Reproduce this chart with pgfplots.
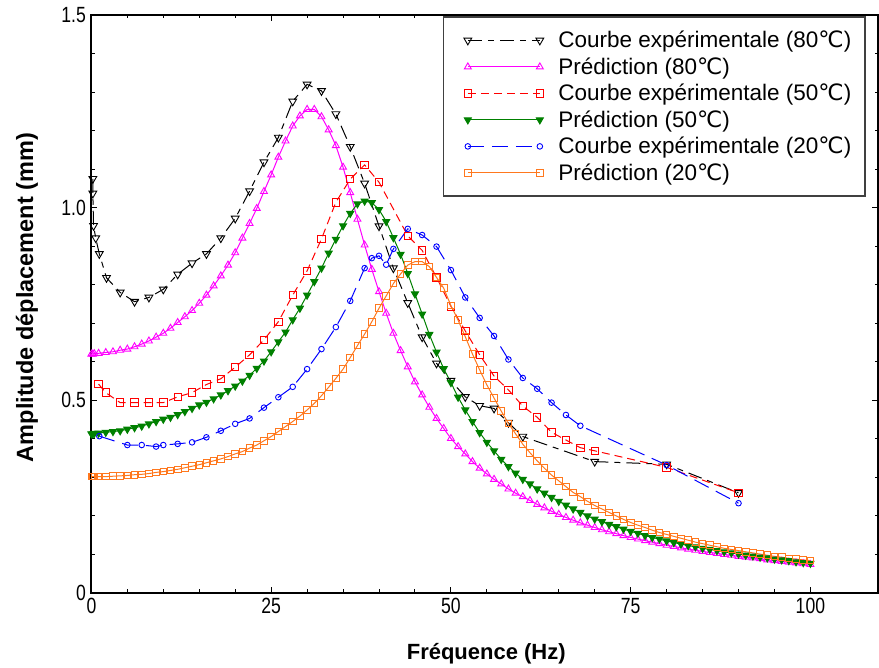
\documentclass[border=0pt]{standalone}
\usepackage{fontspec}
\setmainfont{Liberation Sans}
\newfontfamily\dv{DejaVu Sans}
\newfontfamily\tickfont[FakeStretch=0.8]{Liberation Sans}
\usepackage{pgfplots}
\pgfplotsset{compat=1.18}
\usepackage{pgfplotstable}

\definecolor{cmag}{RGB}{255,0,255}
\definecolor{cred}{RGB}{255,0,0}
\definecolor{cgreen}{RGB}{0,128,0}
\definecolor{cblue}{RGB}{0,0,255}
\definecolor{corange}{RGB}{255,120,30}
\definecolor{legframe}{RGB}{64,64,64}

\pgfplotstableread{
x y
0.2 1.075
0.2 1.037
0.3 0.953
0.6 0.921
1.1 0.880
2.1 0.818
4.0 0.780
6.0 0.756
8.0 0.767
10.0 0.788
12.0 0.827
14.0 0.856
16.0 0.880
18.0 0.921
20.0 0.972
22.0 1.043
24.0 1.118
26.0 1.182
28.0 1.276
30.0 1.320
32.0 1.303
34.0 1.243
36.0 1.158
38.0 1.063
40.0 0.952
42.0 0.843
44.0 0.753
46.0 0.664
48.0 0.596
50.0 0.551
52.0 0.509
54.0 0.486
56.0 0.479
58.0 0.442
60.0 0.406
70.0 0.341
80.0 0.334
90.0 0.260
}\blackexp

\pgfplotstableread{
x y
0 0.620
0.2 0.620
0.4 0.621
1 0.622
2 0.624
3 0.626
4 0.630
5 0.633
6 0.639
7 0.646
8 0.654
9 0.664
10 0.674
11 0.687
12 0.702
13 0.717
14 0.733
15 0.752
16 0.773
17 0.797
18 0.823
19 0.851
20 0.883
21 0.921
22 0.959
23 0.998
24 1.042
25 1.085
26 1.131
27 1.173
28 1.212
29 1.238
30 1.255
31 1.255
32 1.236
33 1.202
34 1.161
35 1.105
36 1.039
37 0.970
38 0.903
39 0.840
40 0.782
41 0.726
42 0.674
43 0.629
44 0.587
45 0.548
46 0.514
47 0.482
48 0.453
49 0.427
50 0.401
51 0.380
52 0.361
53 0.341
54 0.324
55 0.309
56 0.295
57 0.283
58 0.270
59 0.259
60 0.250
61 0.240
62 0.230
63 0.221
64 0.212
65 0.204
66 0.196
67 0.189
68 0.182
69 0.176
70 0.170
71 0.164
72 0.159
73 0.154
74 0.149
75 0.144
76 0.140
77 0.136
78 0.132
79 0.128
80 0.124
81 0.121
82 0.117
83 0.114
84 0.111
85 0.108
86 0.105
87 0.103
88 0.100
89 0.098
90 0.095
91 0.093
92 0.091
93 0.089
94 0.086
95 0.084
96 0.082
97 0.080
98 0.078
99 0.076
100 0.074
}\magpred

\pgfplotstableread{
x y
1.0 0.542
2.0 0.520
4.0 0.494
6.0 0.494
8.0 0.494
10.0 0.494
12.0 0.509
14.0 0.520
16.0 0.541
18.0 0.556
20.0 0.586
22.0 0.618
24.0 0.657
26.0 0.704
28.0 0.773
30.0 0.836
32.0 0.919
34.0 1.014
36.0 1.074
38.0 1.111
40.0 1.066
44.0 0.927
46.0 0.889
48.0 0.819
50.0 0.744
52.0 0.680
54.0 0.618
56.0 0.563
58.0 0.527
60.0 0.485
62.0 0.456
64.0 0.417
66.0 0.397
68.0 0.377
70.0 0.369
80.0 0.326
90.0 0.260
}\redexp

\pgfplotstableread{
x y
0 0.413
0.2 0.413
0.4 0.414
1 0.415
2 0.417
3 0.419
4 0.421
5 0.425
6 0.429
7 0.433
8 0.439
9 0.445
10 0.451
11 0.456
12 0.463
13 0.471
14 0.479
15 0.488
16 0.495
17 0.504
18 0.514
19 0.525
20 0.537
21 0.550
22 0.565
23 0.583
24 0.602
25 0.626
26 0.652
27 0.677
28 0.709
29 0.739
30 0.773
31 0.808
32 0.843
33 0.882
34 0.918
35 0.953
36 0.985
37 1.010
38 1.017
39 1.013
40 0.995
41 0.964
42 0.922
43 0.879
44 0.829
45 0.776
46 0.724
47 0.671
48 0.625
49 0.582
50 0.546
51 0.508
52 0.475
53 0.445
54 0.416
55 0.391
56 0.369
57 0.347
58 0.328
59 0.311
60 0.295
61 0.283
62 0.270
63 0.259
64 0.248
65 0.238
66 0.228
67 0.218
68 0.209
69 0.200
70 0.192
71 0.185
72 0.178
73 0.172
74 0.166
75 0.160
76 0.155
77 0.149
78 0.144
79 0.140
80 0.135
81 0.131
82 0.127
83 0.123
84 0.120
85 0.116
86 0.113
87 0.110
88 0.107
89 0.104
90 0.101
91 0.098
92 0.096
93 0.093
94 0.091
95 0.088
96 0.086
97 0.084
98 0.081
99 0.079
100 0.077
}\greenpred

\pgfplotstableread{
x y
1.1 0.407
5.0 0.384
7.0 0.384
9.0 0.380
10.0 0.384
12.0 0.387
14.0 0.391
16.0 0.404
18.0 0.421
20.0 0.439
22.0 0.453
24.0 0.481
26.0 0.508
28.0 0.535
30.0 0.581
32.0 0.633
34.0 0.690
36.0 0.758
38.0 0.843
39.0 0.869
40.0 0.875
41.0 0.852
42.0 0.893
44.0 0.945
46.0 0.929
48.0 0.899
50.0 0.838
52.0 0.767
54.0 0.714
56.0 0.667
58.0 0.606
60.0 0.558
62.0 0.530
64.0 0.494
66.0 0.462
68.0 0.434
80.0 0.332
90.0 0.233
}\blueexp

\pgfplotstableread{
x y
0 0.302
0.2 0.302
0.4 0.302
1 0.302
2 0.302
3 0.303
4 0.304
5 0.305
6 0.307
7 0.308
8 0.310
9 0.313
10 0.315
11 0.318
12 0.321
13 0.325
14 0.329
15 0.333
16 0.338
17 0.343
18 0.348
19 0.354
20 0.361
21 0.367
22 0.376
23 0.384
24 0.395
25 0.406
26 0.419
27 0.432
28 0.445
29 0.459
30 0.475
31 0.492
32 0.512
33 0.534
34 0.557
35 0.581
36 0.611
37 0.642
38 0.672
39 0.704
40 0.739
41 0.771
42 0.803
43 0.828
44 0.851
45 0.860
46 0.860
47 0.847
48 0.819
49 0.791
50 0.746
51 0.708
52 0.665
53 0.620
54 0.579
55 0.540
56 0.506
57 0.472
58 0.440
59 0.413
60 0.386
61 0.364
62 0.343
63 0.324
64 0.306
65 0.291
66 0.276
67 0.261
68 0.250
69 0.238
70 0.227
71 0.218
72 0.209
73 0.200
74 0.191
75 0.183
76 0.176
77 0.170
78 0.163
79 0.157
80 0.152
81 0.147
82 0.142
83 0.137
84 0.132
85 0.128
86 0.124
87 0.120
88 0.116
89 0.113
90 0.110
91 0.107
92 0.104
93 0.101
94 0.098
95 0.095
96 0.093
97 0.090
98 0.088
99 0.086
100 0.084
}\orangepred

\begin{document}
\begin{tikzpicture}
\begin{axis}[
  at={(91.4pt,75pt)}, anchor=south west,
  scale only axis, width=786.6pt, height=578pt,
  xmin=0, xmax=109.4, ymin=0, ymax=1.5,
  xtick={0,25,50,75,100}, xticklabels={0,25,50,75,100},
  minor x tick num=4,
  ytick={0,0.5,1,1.5}, yticklabels={0,0.5,1.0,1.5},
  minor y tick num=4,
  tick align=inside,
  major tick length=6pt, minor tick length=3.5pt,
  every tick/.style={black, line width=1pt},
  axis line style={line width=2pt},
  ticklabel style={font=\tickfont\fontsize{22}{22}\selectfont},
  xticklabel style={yshift=-2pt},
  yticklabel style={xshift=-2pt},
  every axis x label/.style={at={(axis description cs:0.502,0)}, anchor=base, yshift=-67pt, font=\bfseries\fontsize{22}{22}\selectfont},
  every axis y label/.style={at={(axis description cs:-0.0742,0.511)}, rotate=90, anchor=base, font=\bfseries\fontsize{23.5}{23.5}\selectfont},
  xlabel={Fréquence (Hz)},
  ylabel={Amplitude déplacement (mm)},
  legend cell align=left,
  legend style={at={(rel axis cs:0.9848,0.9974)}, anchor=north east,
    draw=legframe, line width=1.6pt, fill=white,
    font=\fontsize{22.5}{22.5}\selectfont,
    inner xsep=12pt, inner ysep=12pt, row sep=4.3pt,
    nodes={inner sep=2pt}},
  legend image code/.code={%
    \draw[mark repeat=2, mark phase=1, #1] plot coordinates {(0pt,0pt) (36pt,0pt) (72pt,0pt)};
    \path (-12pt,0pt) (88pt,0pt);},
]
\addplot[black, line width=1pt, dash pattern=on 14pt off 6pt on 6pt off 6pt,
  mark=triangle, mark size=4.5pt, mark options={solid, rotate=180, line width=0.9pt}] table {\blackexp};
\addlegendentry{Courbe expérimentale (80{\dv ℃})}
\addplot[cmag, line width=1pt, mark=triangle, mark size=4pt,
  mark options={solid, line width=0.9pt}] table {\magpred};
\addlegendentry{Prédiction (80{\dv ℃})}
\addplot[cred, line width=1pt, dash pattern=on 8pt off 5pt,
  mark=square, mark size=3.7pt, mark options={solid, line width=0.9pt}] table {\redexp};
\addlegendentry{Courbe expérimentale (50{\dv ℃})}
\addplot[cgreen, line width=1pt, mark=triangle*, mark size=4pt,
  mark options={solid, rotate=180, fill=cgreen}] table {\greenpred};
\addlegendentry{Prédiction (50{\dv ℃})}
\addplot[cblue, line width=1pt, dash pattern=on 16pt off 8pt,
  mark=o, mark size=2.8pt, mark options={solid, line width=0.9pt}] table {\blueexp};
\addlegendentry{Courbe expérimentale (20{\dv ℃})}
\addplot[corange, line width=1pt, mark=square, mark size=3.3pt,
  mark options={solid, line width=0.9pt}] table {\orangepred};
\addlegendentry{Prédiction (20{\dv ℃})}
\end{axis}
\pgfresetboundingbox
\path[use as bounding box] (0pt,0pt) rectangle (879pt,668pt);
\end{tikzpicture}
\end{document}
